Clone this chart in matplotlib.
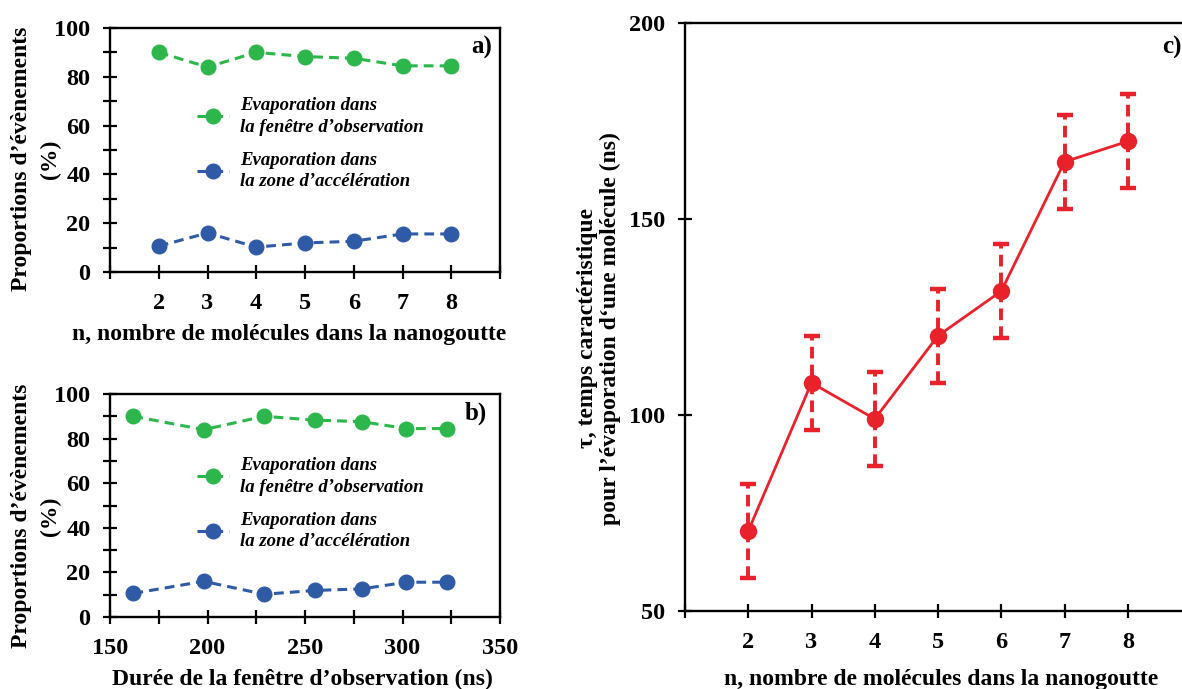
import matplotlib
matplotlib.use("Agg")
import matplotlib.pyplot as plt
import numpy as np

# ---------------- data ----------------
n_molecules = [2, 3, 4, 5, 6, 7, 8]
window_ns = [162, 198, 229, 255, 279, 302, 323]
pct_window = [90.0, 84.0, 90.0, 88.3, 87.6, 84.5, 84.5]
pct_accel = [10.6, 16.0, 10.2, 11.9, 12.6, 15.6, 15.6]
tau_ns = [70.4, 108.2, 99.0, 120.2, 131.6, 164.6, 169.8]
tau_err = [12, 12, 12, 12, 12, 12, 12]

label_window = "Evaporation dans\nla fenêtre d’observation"
label_accel = "Evaporation dans\nla zone d’accélération"

GREEN = "#2db64b"
BLUE = "#2f5aa6"
RED = "#e8212b"

plt.rcParams["font.family"] = ["Liberation Serif", "DejaVu Serif"]
plt.rcParams["font.weight"] = "bold"
plt.rcParams["axes.labelweight"] = "bold"

fig = plt.figure(figsize=(11.82, 6.89), dpi=100)
W, H = 1182, 689

def axes_px(l, r, t, b):
    return fig.add_axes([l / W, 1 - b / H, (r - l) / W, (b - t) / H])

ax_a = axes_px(110, 500, 28, 272)
ax_b = axes_px(110, 500, 394, 617)
ax_c = axes_px(685, 1191, 23, 611)

TICK = 17.5
LAB = 17

def style(ax):
    for s in ax.spines.values():
        s.set_linewidth(1.7)
        s.set_color("black")
    ax.tick_params(which="both", direction="inout", length=10, width=1.6,
                   labelsize=TICK)
    ax.tick_params(axis="y", which="both", pad=9)
    ax.tick_params(axis="x", which="both", pad=10)
    for t in ax.get_xticklabels() + ax.get_yticklabels():
        t.set_fontweight("bold")

dash = (0, (3.2, 2.0))

# ---------- panels a and b ----------
for ax, xs, ylab_y in ((ax_a, n_molecules, 0.463), (ax_b, window_ns, 0.453)):
    ax.plot(xs, pct_window, linestyle=dash, color=GREEN, lw=2.2, marker="o",
            ms=10.5, label=label_window)
    ax.plot(xs, pct_accel, linestyle=dash, color=BLUE, lw=2.2, marker="o",
            ms=10.5, label=label_accel)
    ax.set_ylim(0, 100)
    ax.set_yticks([0, 20, 40, 60, 80, 100])
    ax.set_yticks([10, 30, 50, 70, 90], minor=True)
    ax.set_ylabel("Proportions d’évènements", fontsize=LAB,
                  fontweight="bold", va="center")
    ax.yaxis.set_label_coords((21 - 110) / 390, ylab_y)
    ax.text((50 - 110) / 390, ylab_y, "(%)", transform=ax.transAxes,
            rotation=90, ha="center", va="center", fontsize=LAB,
            fontweight="bold", rotation_mode="anchor")
    leg = ax.legend(loc="upper left", bbox_to_anchor=(0.222, 0.717),
                    frameon=False, numpoints=1, handlelength=1.75,
                    handletextpad=0.55, labelspacing=0.85, borderpad=0,
                    borderaxespad=0,
                    prop={"family": ["Liberation Serif"], "style": "italic",
                          "weight": "bold", "size": 13.5})
    for t in leg.get_texts():
        t.set_linespacing(1.35)
    style(ax)

ax_a.set_xlim(1, 9)
ax_a.set_xticks(range(1, 10))
ax_a.set_xticklabels([""] + [str(v) for v in n_molecules] + [""])
ax_a.set_xlabel("n, nombre de molécules dans la nanogoutte", fontsize=LAB,
                fontweight="bold", va="center")
ax_a.xaxis.set_label_coords((289 - 110) / 390, (272 - 335) / 244)
ax_a.text(492 / W, 1 - 47 / H, "a)", transform=fig.transFigure, ha="right",
          va="center", fontsize=18, fontweight="bold")
for t in ax_a.get_xticklabels():
    t.set_fontweight("bold")

ax_b.set_xlim(150, 350)
ax_b.set_xticks([150, 200, 250, 300, 350])
ax_b.set_xticks([175, 225, 275, 325], minor=True)
ax_b.set_xlabel("Durée de la fenêtre d’observation (ns)", fontsize=LAB,
                fontweight="bold", va="center")
ax_b.xaxis.set_label_coords((302 - 110) / 390, (617 - 679) / 223)
ax_b.text(487 / W, 1 - 413 / H, "b)", transform=fig.transFigure, ha="right",
          va="center", fontsize=18, fontweight="bold")
for t in ax_b.get_xticklabels():
    t.set_fontweight("bold")

# ---------- panel c ----------
eb = ax_c.errorbar(n_molecules, tau_ns, yerr=tau_err, color=RED, lw=2.0,
                   marker="o", ms=11.5, capsize=5.5, capthick=3.2, elinewidth=2.8)
for col in eb[2]:
    col.set_linestyle((0, (3, 1.6)))
ax_c.set_xlim(1, 9)
ax_c.set_ylim(50, 200)
ax_c.set_xticks(range(1, 10))
ax_c.set_xticklabels([""] + [str(v) for v in n_molecules] + [""])
ax_c.set_yticks([50, 100, 150, 200])
ax_c.set_xlabel("n, nombre de molécules dans la nanogoutte", fontsize=LAB,
                fontweight="bold", va="center")
ax_c.xaxis.set_label_coords((941 - 685) / 506, (611 - 679) / 588)
ax_c.set_ylabel("τ, temps caractéristique\npour l’évaporation d‘une molécule (ns)",
                fontsize=17, fontweight="bold", linespacing=1.12, va="center")
ax_c.yaxis.set_label_coords((599 - 685) / 506, (611 - 328.5) / 588)
ax_c.text(1182 / W, 1 - 47 / H, "c)", transform=fig.transFigure, ha="right",
          va="center", fontsize=18, fontweight="bold")
style(ax_c)

fig.savefig("out.png", dpi=100)
